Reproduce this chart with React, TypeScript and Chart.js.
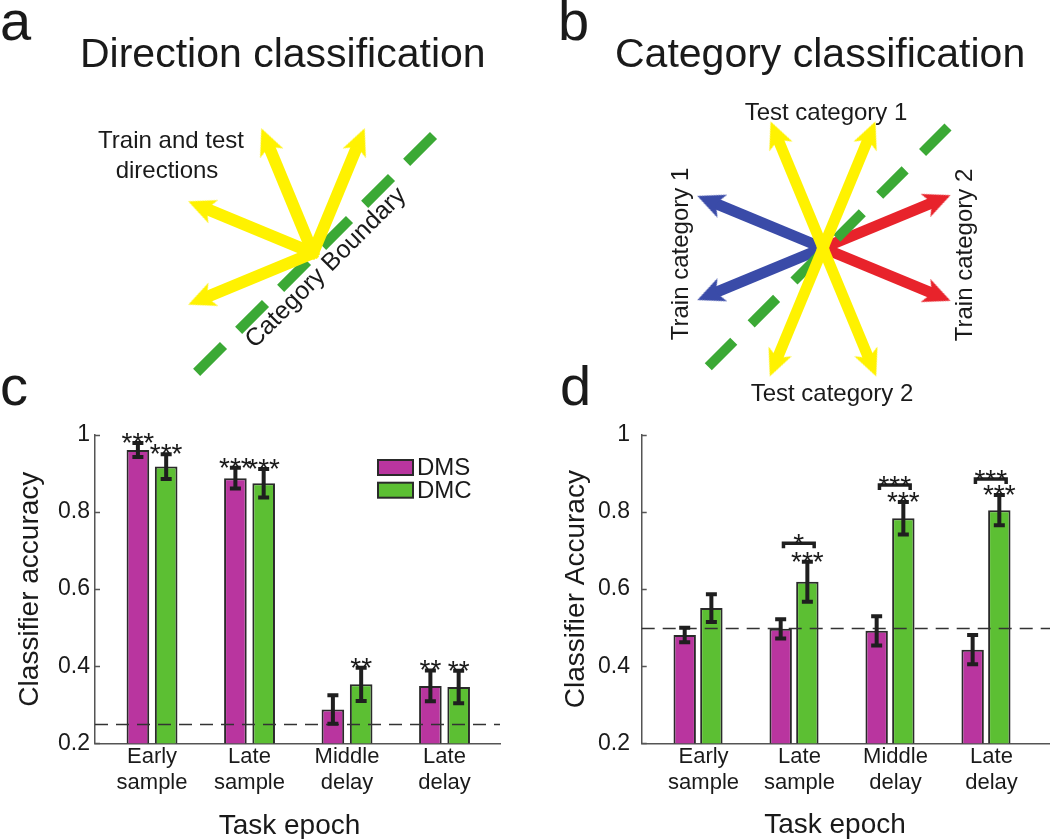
import React, { useEffect, useRef } from 'react';
import { Chart, registerables } from 'chart.js';

Chart.register(...registerables);

const FONT = "'Liberation Sans', Arial, Helvetica, sans-serif";
const INK = '#1a1a1a';
const AXIS = '#555555';
const YELLOW = '#FFF200';
const BOUNDARY_GREEN = '#3BA935';
const BLUE = '#3A4BA8';
const RED = '#E8232B';
const MAGENTA = '#B9359F';
const BAR_GREEN = '#5CBF33';
const EDGE = '#2a2a2a';

// ---------- Panel a / b : motion directions (degrees, counter-clockwise from east)
const trainTestDirections = [67.5, 112.5, 157.5, 202.5];
const testCategory1Dirs = [67.5, 112.5];
const testCategory2Dirs = [247.5, 292.5];
const trainCategory1Dirs = [157.5, 202.5];
const trainCategory2Dirs = [22.5, 337.5];
const boundaryAngle = 45;

// ---------- Panel c / d : classifier accuracy
const epochs = [['Early', 'sample'], ['Late', 'sample'], ['Middle', 'delay'], ['Late', 'delay']];
const epochPositions = [1, 2, 3, 4];
const yTicks = [0.2, 0.4, 0.6, 0.8, 1];
const yTickLabels = ['0.2', '0.4', '0.6', '0.8', '1'];
const seriesNames = ['DMS', 'DMC'];

const dirDMS = [0.961, 0.888, 0.288, 0.349];
const dirDMSErr = [0.018, 0.027, 0.037, 0.040];
const dirDMC = [0.918, 0.875, 0.353, 0.346];
const dirDMCErr = [0.032, 0.037, 0.043, 0.042];
const dirStarsDMS = ['***', '***', '', '**'];
const dirStarsDMC = ['***', '***', '**', '**'];
const dirChance = 0.25;

const catDMS = [0.481, 0.497, 0.492, 0.443];
const catDMSErr = [0.019, 0.025, 0.038, 0.038];
const catDMC = [0.551, 0.619, 0.784, 0.805];
const catDMCErr = [0.036, 0.052, 0.042, 0.039];
const catStarsDMS = ['', '', '', ''];
const catStarsDMC = ['', '***', '***', '***'];
const catDiffStars = ['', '*', '***', '***'];
const catDiffLevel = [null, 0.719, 0.870, 0.886];
const catChance = 0.5;

// ---------- helpers
function headImage(color: string) {
  const c = document.createElement('canvas');
  c.width = 25;
  c.height = 27;
  const g = c.getContext('2d') as CanvasRenderingContext2D;
  g.fillStyle = color;
  g.beginPath();
  g.moveTo(12.5, 0);
  g.lineTo(25, 27);
  g.lineTo(12.5, 20);
  g.lineTo(0, 27);
  g.closePath();
  g.fill();
  return c;
}

function arrowDataset(angle: number, length: number, color: string, width: number, order: number) {
  const r = (angle * Math.PI) / 180;
  const c = Math.cos(r);
  const s = Math.sin(r);
  const d = length - 13.5;
  return {
    data: [
      { x: -4 * c, y: -4 * s },
      { x: d * c, y: d * s },
    ],
    showLine: true,
    clip: false,
    borderColor: color,
    backgroundColor: color,
    borderWidth: width,
    borderCapStyle: 'butt',
    pointStyle: headImage(color),
    pointRadius: [0, 10],
    pointHoverRadius: [0, 10],
    pointRotation: [0, 90 - angle],
    order,
  };
}

function boundaryDataset(angle: number, half: number, center: { x: number; y: number }, dash: number[]) {
  const r = (angle * Math.PI) / 180;
  return {
    data: [
      { x: center.x + half * Math.cos(r), y: center.y + half * Math.sin(r) },
      { x: center.x - half * Math.cos(r), y: center.y - half * Math.sin(r) },
    ],
    showLine: true,
    clip: false,
    borderColor: BOUNDARY_GREEN,
    borderWidth: 10,
    borderDash: dash,
    borderCapStyle: 'butt',
    pointRadius: 0,
    pointHoverRadius: 0,
    order: 1,
  };
}

type Txt = {
  text: string;
  x: number;
  y: number;
  size: number;
  align?: CanvasTextAlign;
  baseline?: CanvasTextBaseline;
  rotate?: number;
};

function textPlugin(id: string, items: Txt[]) {
  return {
    id,
    afterDraw(chart: any) {
      const ctx = chart.ctx as CanvasRenderingContext2D;
      for (const t of items) {
        ctx.save();
        ctx.translate(t.x, t.y);
        if (t.rotate) ctx.rotate((t.rotate * Math.PI) / 180);
        ctx.font = `${t.size}px ${FONT}`;
        ctx.fillStyle = INK;
        ctx.textAlign = t.align || 'left';
        ctx.textBaseline = t.baseline || 'alphabetic';
        ctx.fillText(t.text, 0, 0);
        ctx.restore();
      }
    },
  };
}

function diagram(canvas: HTMLCanvasElement, datasets: any[], origin: { x: number; y: number }, texts: Txt[], id: string) {
  const W = canvas.width;
  const H = canvas.height;
  return new Chart(canvas, {
    type: 'scatter',
    data: { datasets },
    options: {
      animation: false,
      responsive: false,
      events: [],
      layout: { padding: 0, autoPadding: false },
      plugins: { legend: { display: false }, tooltip: { enabled: false } },
      scales: {
        x: { type: 'linear', display: false, min: -origin.x, max: W - origin.x },
        y: { type: 'linear', display: false, min: -(H - origin.y), max: origin.y },
      },
    } as any,
    plugins: [textPlugin(id, texts)],
  } as any);
}

function makeDirectionDiagram(canvas: HTMLCanvasElement) {
  const datasets = [
    ...trainTestDirections.map((a) => arrowDataset(a, 135, YELLOW, 12, 0)),
    boundaryDataset(boundaryAngle, 167.6, { x: 2, y: -1 }, [38, 21.4]),
  ];
  return diagram(
    canvas,
    datasets,
    { x: 313, y: 253 },
    [
      { text: 'a', x: 0, y: 40, size: 56 },
      { text: 'Direction classification', x: 80, y: 67, size: 41 },
      { text: 'Train and test', x: 171, y: 148, size: 24, align: 'center' },
      { text: 'directions', x: 167, y: 178, size: 24, align: 'center' },
      { text: 'Category Boundary', x: 326, y: 268, size: 25, align: 'center', baseline: 'middle', rotate: -45 },
    ],
    'txtA'
  );
}

function makeCategoryDiagram(canvas: HTMLCanvasElement) {
  const datasets = [
    ...testCategory1Dirs.map((a) => arrowDataset(a, 137, YELLOW, 11, 0)),
    ...testCategory2Dirs.map((a) => arrowDataset(a, 139, YELLOW, 11, 0)),
    boundaryDataset(boundaryAngle, 169.7, { x: 5, y: 1 }, [36, 24.6]),
    ...trainCategory1Dirs.map((a) => arrowDataset(a, 136, BLUE, 11, 2)),
    ...trainCategory2Dirs.map((a) => arrowDataset(a, 138, RED, 11, 2)),
  ];
  return diagram(
    canvas,
    datasets,
    { x: 298, y: 248 },
    [
      { text: 'b', x: 33, y: 40, size: 56 },
      { text: 'Category classification', x: 90, y: 67, size: 41 },
      { text: 'Test category 1', x: 301, y: 120, size: 24, align: 'center' },
      { text: 'Test category 2', x: 307, y: 401, size: 24, align: 'center' },
      { text: 'Train category 1', x: 163, y: 254, size: 24, align: 'center', rotate: -90 },
      { text: 'Train category 2', x: 447, y: 255, size: 24, align: 'center', rotate: -90 },
    ],
    'txtB'
  );
}

const barDecorPlugin = {
  id: 'barDecor',
  afterDatasetsDraw(chart: any, _args: any, opts: any) {
    const ctx = chart.ctx as CanvasRenderingContext2D;
    const { chartArea } = chart;
    const x = chart.scales.x;
    const y = chart.scales.y;

    // chance level
    ctx.save();
    ctx.strokeStyle = '#333';
    ctx.lineWidth = 1.3;
    ctx.setLineDash([13, 8]);
    const cy = Math.round(y.getPixelForValue(opts.chance)) + 0.5;
    ctx.beginPath();
    ctx.moveTo(chartArea.left, cy);
    ctx.lineTo(chartArea.right, cy);
    ctx.stroke();
    ctx.restore();

    // error bars + stars
    ctx.save();
    ctx.strokeStyle = '#1f1f1f';
    ctx.fillStyle = INK;
    ctx.font = `28px ${FONT}`;
    ctx.textAlign = 'center';
    ctx.textBaseline = 'alphabetic';
    chart.data.datasets.forEach((ds: any, i: number) => {
      const meta = chart.getDatasetMeta(i);
      meta.data.forEach((el: any, j: number) => {
        const v = ds.data[j].y;
        const e = ds.errors[j];
        const hi = y.getPixelForValue(v + e);
        const lo = y.getPixelForValue(v - e);
        ctx.lineWidth = 4;
        ctx.beginPath();
        ctx.moveTo(el.x, hi);
        ctx.lineTo(el.x, lo);
        ctx.moveTo(el.x - 5.5, hi);
        ctx.lineTo(el.x + 5.5, hi);
        ctx.moveTo(el.x - 5.5, lo);
        ctx.lineTo(el.x + 5.5, lo);
        ctx.stroke();
        const st = ds.stars[j];
        if (st) ctx.fillText(st, el.x, hi + 9);
      });
    });

    // comparison brackets
    if (opts.brackets) {
      const b = opts.brackets;
      ctx.lineWidth = 3.5;
      b.levels.forEach((lev: number | null, j: number) => {
        if (lev == null) return;
        const x1 = x.getPixelForValue(epochPositions[j] + b.from);
        const x2 = x.getPixelForValue(epochPositions[j] + b.to);
        const yy = y.getPixelForValue(lev);
        ctx.beginPath();
        ctx.moveTo(x1, yy + 5);
        ctx.lineTo(x1, yy);
        ctx.lineTo(x2, yy);
        ctx.lineTo(x2, yy + 5);
        ctx.stroke();
        if (b.stars[j]) ctx.fillText(b.stars[j], (x1 + x2) / 2, yy + 10);
      });
    }

    // inward tick marks on y axis
    ctx.strokeStyle = AXIS;
    ctx.lineWidth = 1.3;
    ctx.beginPath();
    y.ticks.forEach((t: any) => {
      const py = Math.round(y.getPixelForValue(t.value)) + 0.5;
      ctx.moveTo(chartArea.left, py);
      ctx.lineTo(chartArea.left + 5, py);
    });
    ctx.stroke();
    ctx.restore();
  },
  afterDraw(chart: any, _args: any, opts: any) {
    const ctx = chart.ctx as CanvasRenderingContext2D;
    ctx.save();
    ctx.fillStyle = INK;
    ctx.textBaseline = 'alphabetic';
    ctx.textAlign = 'left';
    ctx.font = `56px ${FONT}`;
    ctx.fillText(opts.letter.text, opts.letter.x, opts.letter.y);

    ctx.textAlign = 'center';
    ctx.font = `28px ${FONT}`;
    ctx.fillText(opts.xTitle.text, opts.xTitle.x, opts.xTitle.y);

    if (opts.legend) {
      const L = opts.legend;
      ctx.textAlign = 'left';
      ctx.font = `24px ${FONT}`;
      chart.data.datasets.forEach((ds: any, i: number) => {
        const top = L.y + i * L.step;
        ctx.fillStyle = EDGE;
        ctx.fillRect(L.x, top, L.w, L.h);
        ctx.fillStyle = ds.backgroundColor;
        ctx.fillRect(L.x + 2, top + 2, L.w - 4, L.h - 4);
        ctx.fillStyle = INK;
        ctx.fillText(ds.label, L.x + L.w + 3, top + L.h - 1);
      });
    }
    ctx.restore();
  },
};

function makeBarPanel(canvas: HTMLCanvasElement, p: any) {
  const mk = (i: number, vals: number[], errs: number[], stars: string[], color: string) => ({
    label: seriesNames[i],
    data: vals.map((v, k) => ({ x: epochPositions[k], y: v })),
    errors: errs,
    stars,
    backgroundColor: color,
    borderColor: EDGE,
    borderWidth: 2,
    borderSkipped: 'start',
    categoryPercentage: p.cat,
    barPercentage: p.bar,
  });
  return new Chart(canvas, {
    type: 'bar',
    data: {
      datasets: [
        mk(0, p.dms, p.dmsErr, p.dmsStars, MAGENTA),
        mk(1, p.dmc, p.dmcErr, p.dmcStars, BAR_GREEN),
      ],
    },
    options: {
      animation: false,
      responsive: false,
      events: [],
      layout: { padding: { top: 75, right: p.padRight, left: 0, bottom: 0 } },
      plugins: {
        legend: { display: false },
        tooltip: { enabled: false },
        barDecor: {
          chance: p.chance,
          brackets: p.brackets,
          letter: p.letter,
          xTitle: p.xTitle,
          legend: p.legend,
        },
      },
      scales: {
        x: {
          type: 'linear',
          min: p.xMin,
          max: p.xMax,
          offset: false,
          z: 1,
          grid: { display: false, offset: false, drawTicks: false, tickLength: 0 },
          border: { display: true, color: AXIS, width: 1.5 },
          afterBuildTicks: (s: any) => {
            s.ticks = epochPositions.map((v) => ({ value: v }));
          },
          afterFit: (s: any) => {
            s.height = 95.7;
          },
          ticks: {
            callback: (v: number) => epochs[epochPositions.indexOf(v)],
            font: { size: 22, family: FONT },
            color: INK,
            padding: 0,
            autoSkip: false,
            maxRotation: 0,
            minRotation: 0,
            labelOffset: p.labelOffset,
          },
        },
        y: {
          type: 'linear',
          min: 0.2,
          max: 1,
          z: 1,
          grid: { display: false, drawTicks: false, tickLength: 0 },
          border: { display: true, color: AXIS, width: 1.5 },
          afterBuildTicks: (s: any) => {
            s.ticks = yTicks.map((v) => ({ value: v }));
          },
          afterFit: (s: any) => {
            s.width = p.yWidth;
          },
          ticks: {
            callback: (v: number) => yTickLabels[yTicks.findIndex((t) => Math.abs(t - v) < 1e-9)],
            font: { size: 23, family: FONT },
            color: INK,
            padding: p.tickPad,
          },
          title: {
            display: true,
            text: p.yTitle,
            font: { size: 28, family: FONT },
            color: INK,
            padding: { top: p.yTitlePad, bottom: 0 },
          },
        },
      },
    } as any,
    plugins: [barDecorPlugin],
  } as any);
}

export default function App() {
  const aRef = useRef<HTMLCanvasElement>(null);
  const bRef = useRef<HTMLCanvasElement>(null);
  const cRef = useRef<HTMLCanvasElement>(null);
  const dRef = useRef<HTMLCanvasElement>(null);

  useEffect(() => {
    Chart.defaults.font.family = FONT;
    Chart.defaults.color = INK;
    const charts = [
      makeDirectionDiagram(aRef.current as HTMLCanvasElement),
      makeCategoryDiagram(bRef.current as HTMLCanvasElement),
      makeBarPanel(cRef.current as HTMLCanvasElement, {
        dms: dirDMS,
        dmsErr: dirDMSErr,
        dmsStars: dirStarsDMS,
        dmc: dirDMC,
        dmcErr: dirDMCErr,
        dmcStars: dirStarsDMC,
        chance: dirChance,
        cat: 0.58,
        bar: 0.8,
        xMin: 0.415,
        xMax: 4.569,
        padRight: 25,
        yWidth: 95,
        tickPad: 5,
        yTitle: 'Classifier accuracy',
        yTitlePad: 13,
        labelOffset: 0,
        letter: { text: 'c', x: 0, y: 45 },
        xTitle: { text: 'Task epoch', x: 289.5, y: 474 },
        legend: { x: 377, y: 99, w: 37, h: 17, step: 22.7 },
      }),
      makeBarPanel(dRef.current as HTMLCanvasElement, {
        dms: catDMS,
        dmsErr: catDMSErr,
        dmsStars: catStarsDMS,
        dmc: catDMC,
        dmcErr: catDMCErr,
        dmcStars: catStarsDMC,
        chance: catChance,
        cat: 0.556,
        bar: 0.84,
        xMin: 0.413,
        xMax: 4.667,
        padRight: 0,
        yWidth: 116.7,
        tickPad: 11.7,
        yTitle: 'Classifier Accuracy',
        yTitlePad: 34,
        labelOffset: 5.5,
        letter: { text: 'd', x: 35, y: 45 },
        xTitle: { text: 'Task epoch', x: 310, y: 473 },
        brackets: { levels: catDiffLevel, stars: catDiffStars, from: -0.11, to: 0.21 },
      }),
    ];
    return () => charts.forEach((c) => c.destroy());
  }, []);

  const cv = (left: number, top: number, w: number, h: number) => ({
    position: 'absolute' as const,
    left,
    top,
    width: w,
    height: h,
  });

  return (
    <div style={{ position: 'absolute', left: 0, top: 0, width: 1050, height: 839, background: '#fff', overflow: 'hidden' }}>
      <canvas ref={aRef} width={525} height={410} style={cv(0, 0, 525, 410)} />
      <canvas ref={bRef} width={525} height={410} style={cv(525, 0, 525, 410)} />
      <canvas ref={cRef} width={525} height={479} style={cv(0, 360, 525, 479)} />
      <canvas ref={dRef} width={525} height={479} style={cv(525, 360, 525, 479)} />
    </div>
  );
}
